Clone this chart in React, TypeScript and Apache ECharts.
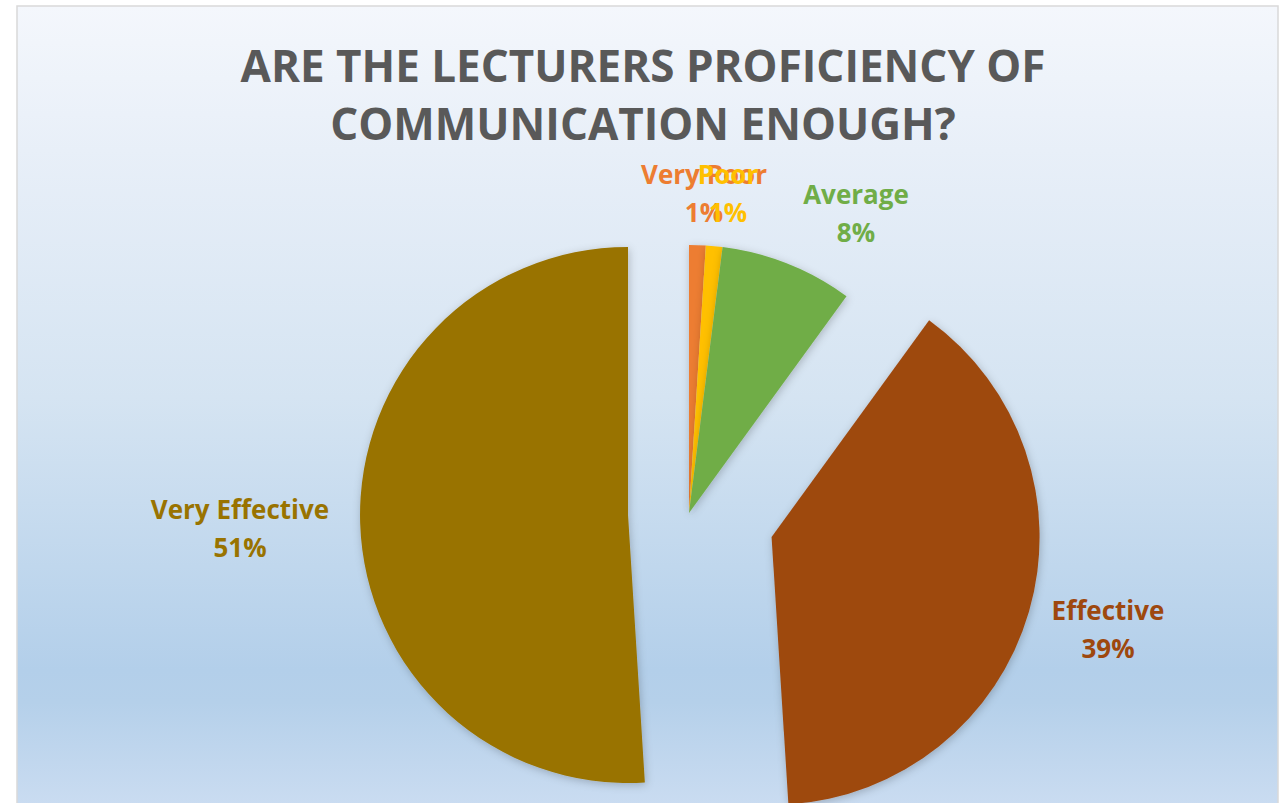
import React, { useEffect, useRef } from 'react';
import * as echarts from 'echarts';

// ---- data ----
const categories = ['Very Poor', 'Poor', 'Average', 'Effective', 'Very Effective'];
const shares = [1, 1, 8, 39, 51];
const titleLines = ['ARE THE LECTURERS PROFICIENCY OF', 'COMMUNICATION ENOUGH?'];

// ---- styles / layout ----
const sliceColors = ['#ED7D31', '#FFC000', '#70AD47', '#9E480E', '#997300'];
const explodePx = [0, 0, 0, 86, 61];
const PIE_CENTER = [689, 513];
const PIE_RADIUS = 268;
const labelPos = [
  [704, 193],
  [728, 193],
  [856, 213],
  [1108, 629],
  [240, 528],
];
const FONT = '"Open Sans", "Noto Sans", sans-serif';

export default function App() {
  const ref = useRef<HTMLDivElement>(null);

  useEffect(() => {
    if (!ref.current) return;
    const chart = echarts.init(ref.current, undefined, { renderer: 'svg' });

    const total = shares.reduce((a, b) => a + b, 0);
    let cum = 0;
    const centers = shares.map((v, i) => {
      const mid = ((cum + v / 2) / total) * 2 * Math.PI;
      cum += v;
      return [
        PIE_CENTER[0] + explodePx[i] * Math.sin(mid),
        PIE_CENTER[1] - explodePx[i] * Math.cos(mid),
      ];
    });

    const series = shares.map((_, k) => ({
      type: 'pie',
      radius: PIE_RADIUS,
      center: centers[k],
      startAngle: 90,
      clockwise: true,
      silent: true,
      avoidLabelOverlap: false,
      percentPrecision: 0,
      emphasis: { disabled: true },
      label: {
        position: 'outside',
        formatter: '{b}\n{d}%',
        fontFamily: FONT,
        fontWeight: 'bold',
        fontSize: 26,
        lineHeight: 38,
      },
      labelLine: { show: false },
      labelLayout: (p: any) =>
        p.dataIndex === k
          ? { x: labelPos[k][0], y: labelPos[k][1], align: 'center', verticalAlign: 'middle' }
          : {},
      data: categories.map((name, i) => ({
        name,
        value: shares[i],
        itemStyle:
          i === k
            ? {
                color: sliceColors[i],
                shadowBlur: 8,
                shadowColor: 'rgba(0,0,0,0.22)',
                shadowOffsetX: 1,
                shadowOffsetY: 2,
              }
            : { color: 'rgba(0,0,0,0)', borderWidth: 0 },
        label: { show: i === k, color: sliceColors[i] },
        labelLine: { show: false },
      })),
    }));

    chart.setOption({
      animation: false,
      backgroundColor: '#ffffff',
      title: {
        text: titleLines.join('\n'),
        left: 'center',
        top: 36,
        padding: [0, 0, 0, 12],
        textStyle: {
          fontFamily: FONT,
          fontWeight: 'bold',
          fontSize: 44,
          lineHeight: 58,
          color: '#595959',
        },
      },
      graphic: [
        {
          type: 'rect',
          silent: true,
          z: -10,
          shape: { x: 17, y: 6, width: 1261, height: 800 },
          style: {
            fill: {
              type: 'linear',
              x: 0,
              y: 0,
              x2: 0,
              y2: 1,
              colorStops: [
                { offset: 0, color: '#f4f7fc' },
                { offset: 0.18, color: '#e8eff8' },
                { offset: 0.49, color: '#d5e4f2' },
                { offset: 0.83, color: '#b3cfea' },
                { offset: 0.87, color: '#b5d0ea' },
                { offset: 1, color: '#cadcf1' },
              ],
            },
            stroke: '#d9d9d9',
            lineWidth: 1.5,
          },
        },
      ],
      series,
    });

    return () => chart.dispose();
  }, []);

  return (
    <div
      ref={ref}
      style={{ position: 'fixed', left: 0, top: 0, width: 1286, height: 803, background: '#fff' }}
    />
  );
}
